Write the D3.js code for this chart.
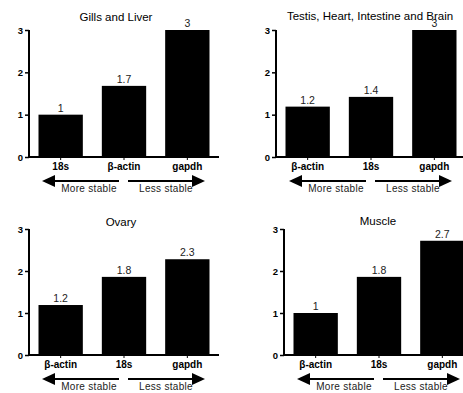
<!DOCTYPE html>
<html>
<head>
<meta charset="utf-8">
<script src="https://cdn.jsdelivr.net/npm/d3@7"></script>
<style>
  body { margin: 0; background: #fff; }
  svg { display: block; font-family: "Liberation Sans", Arial, sans-serif; }
</style>
</head>
<body>
<svg width="463" height="393"></svg>
<script>
// data for the four panels
var titles = ["Gills and Liver", "Testis, Heart, Intestine and Brain", "Ovary", "Muscle"];
var genes1 = ["18s", "\u03b2-actin", "gapdh"];
var genes2 = ["\u03b2-actin", "18s", "gapdh"];
var genes3 = ["\u03b2-actin", "18s", "gapdh"];
var genes4 = ["\u03b2-actin", "18s", "gapdh"];
var vals1 = [1.0, 1.68, 3.0];
var vals2 = [1.19, 1.42, 3.0];
var vals3 = [1.19, 1.86, 2.28];
var vals4 = [1.0, 1.86, 2.72];
var labels1 = ["1", "1.7", "3"];
var labels2 = ["1.2", "1.4", "3"];
var labels3 = ["1.2", "1.8", "2.3"];
var labels4 = ["1", "1.8", "2.7"];
var yTicks = [0, 1, 2, 3];

// layout of each panel (pixel positions)
var panels = [
  {title: titles[0], genes: genes1, vals: vals1, labels: labels1, x0: 29, x1: 219, y0: 157, y1: 30, titleX: 116, titleY: 21},
  {title: titles[1], genes: genes2, vals: vals2, labels: labels2, x0: 276, x1: 466, y0: 157, y1: 30, titleX: 370, titleY: 20},
  {title: titles[2], genes: genes3, vals: vals3, labels: labels3, x0: 29, x1: 219, y0: 355, y1: 229, titleX: 121, titleY: 226},
  {title: titles[3], genes: genes4, vals: vals4, labels: labels4, x0: 284, x1: 474, y0: 355, y1: 229, titleX: 378, titleY: 225}
];

var svg = d3.select("svg");

function drawPanel(p) {
  var g = svg.append("g");

  var x = d3.scaleBand()
    .domain(p.genes)
    .range([p.x0, p.x1])
    .paddingInner(0.3)
    .paddingOuter(0.15);

  var y = d3.scaleLinear()
    .domain([0, 3])
    .range([p.y0, p.y1]);

  // bars
  g.selectAll(".bar")
    .data(p.vals)
    .enter().append("rect")
    .attr("class", "bar")
    .attr("x", function(d, i) { return x(p.genes[i]); })
    .attr("width", x.bandwidth())
    .attr("y", function(d) { return y(d); })
    .attr("height", function(d) { return y(0) - y(d); })
    .attr("fill", "#000");

  // value labels
  g.selectAll(".val")
    .data(p.vals)
    .enter().append("text")
    .attr("x", function(d, i) { return x(p.genes[i]) + x.bandwidth() / 2; })
    .attr("y", function(d) { return y(d) - 3; })
    .attr("text-anchor", "middle")
    .attr("font-size", "10.5px")
    .attr("fill", "#222")
    .text(function(d, i) { return p.labels[i]; });

  // y axis
  var ya = g.append("g")
    .attr("transform", "translate(" + p.x0 + ",0)")
    .call(d3.axisLeft(y).tickValues(yTicks).tickFormat(d3.format("d")).tickSize(4).tickPadding(2));
  ya.select(".domain").attr("stroke-width", 2).attr("d", "M0," + y(3) + "V" + y(0));
  ya.selectAll(".tick line").attr("stroke-width", 1.5);
  ya.selectAll(".tick text").attr("font-size", "9.5px").attr("font-weight", "bold")
    .attr("font-family", "Liberation Sans, Arial, sans-serif").attr("fill", "#000");

  // x axis
  var xa = g.append("g")
    .attr("transform", "translate(0," + p.y0 + ")")
    .call(d3.axisBottom(x).tickSize(3).tickPadding(3));
  xa.select(".domain").attr("stroke-width", 2).attr("d", "M" + p.x0 + ",0H" + p.x1);
  xa.selectAll(".tick text").attr("font-size", "10px").attr("font-weight", "bold")
    .attr("font-family", "Liberation Sans, Arial, sans-serif").attr("fill", "#000");

  // title
  g.append("text")
    .attr("x", p.titleX)
    .attr("y", p.titleY)
    .attr("text-anchor", "middle")
    .attr("font-size", "11.5px")
    .text(p.title);

  // stability arrows
  var ay = p.y0 + 24;
  var ax = p.x0;
  var arrows = [
    {from: ax + 90, to: ax + 13},
    {from: ax + 99, to: ax + 176}
  ];
  arrows.forEach(function(a) {
    var dir = a.to > a.from ? 1 : -1;
    g.append("line")
      .attr("x1", a.from).attr("x2", a.to - dir * 10)
      .attr("y1", ay).attr("y2", ay)
      .attr("stroke", "#000").attr("stroke-width", 2);
    g.append("path")
      .attr("d", "M" + a.to + "," + ay + "L" + (a.to - dir * 13) + "," + (ay - 6) + "L" + (a.to - dir * 13) + "," + (ay + 6) + "Z")
      .attr("fill", "#000");
  });
  g.append("text")
    .attr("x", ax + 60).attr("y", ay + 11)
    .attr("text-anchor", "middle")
    .attr("font-size", "10px")
    .attr("letter-spacing", "0.3px")
    .attr("fill", "#222")
    .text("More stable");
  g.append("text")
    .attr("x", ax + 137).attr("y", ay + 11)
    .attr("text-anchor", "middle")
    .attr("font-size", "10px")
    .attr("letter-spacing", "0.3px")
    .attr("fill", "#222")
    .text("Less stable");
}

panels.forEach(drawPanel);
</script>
</body>
</html>
